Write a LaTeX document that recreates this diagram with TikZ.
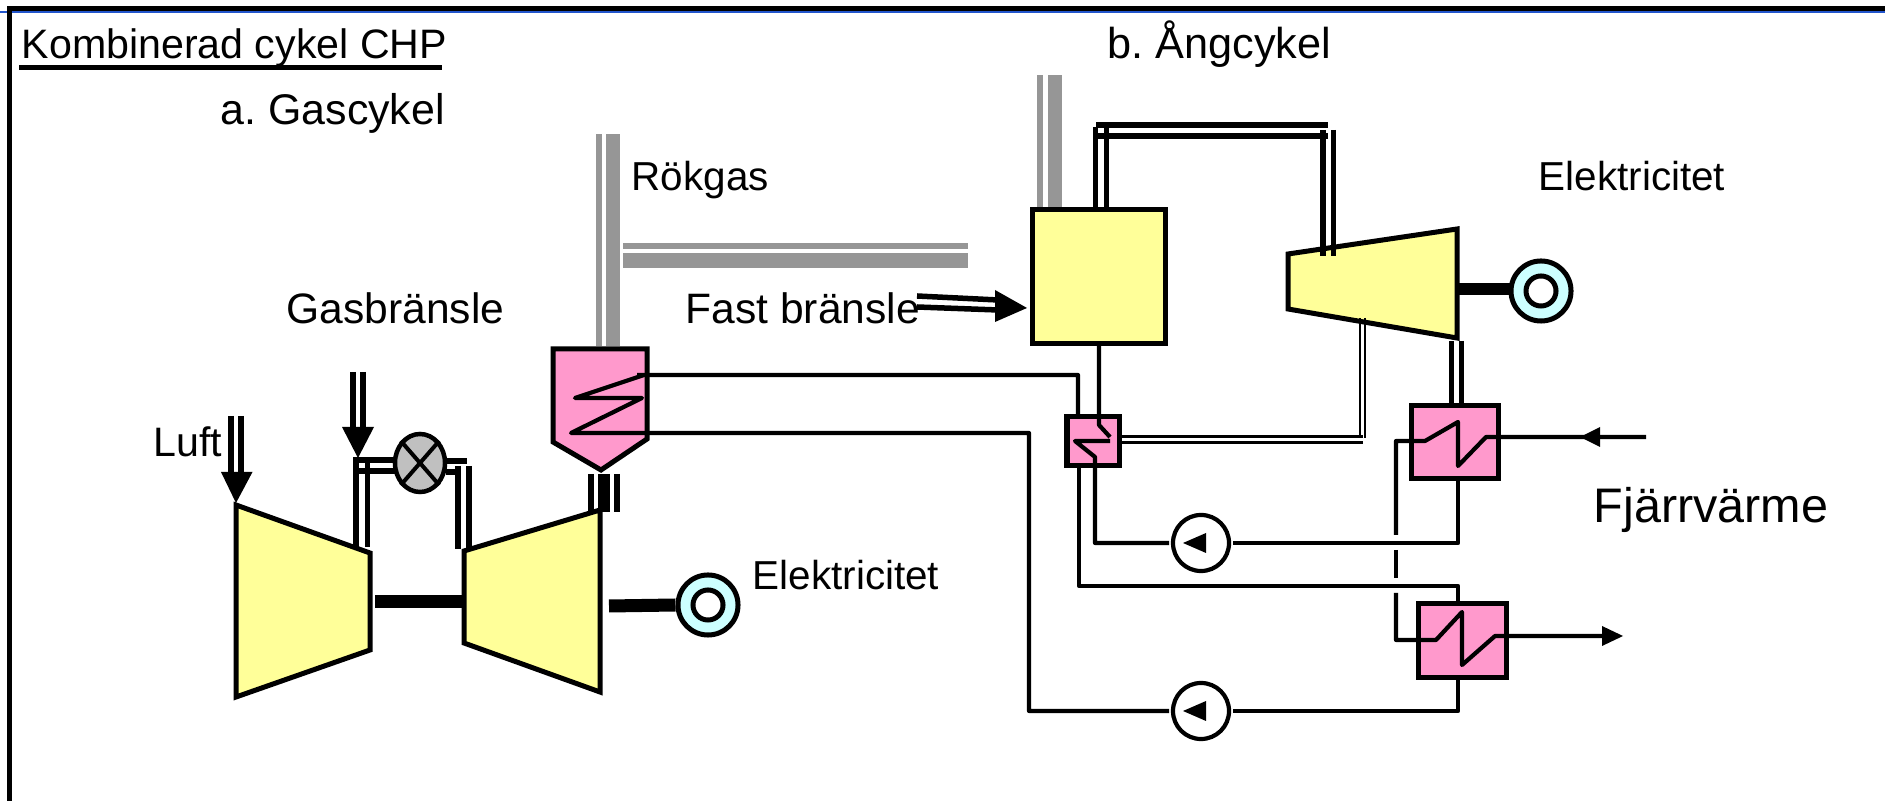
\documentclass[tikz,border=0pt]{standalone}
\usepackage{fontspec}
\setmainfont{Liberation Sans}
\usepackage{xcolor}
\usetikzlibrary{calc,shapes.geometric}
\definecolor{yellowfill}{HTML}{FFFF99}
\definecolor{pinkfill}{HTML}{FF99CC}
\definecolor{cyanfill}{HTML}{CCFFFF}
\definecolor{stackgray}{HTML}{969696}
\definecolor{valvegray}{HTML}{C0C0C0}
\definecolor{frameblue}{HTML}{2255CC}
\tikzset{
  textlabel/.style={inner sep=0pt, anchor=base west, font=\fontsize{#1}{14}\selectfont},
  textlabel/.default=11.7,
  unit/.style={draw=black, line width=0.05cm, line join=miter},
  hxbox/.style={draw=black, fill=pinkfill, line width=0.05cm, minimum width=#1, inner sep=0pt},
  pipe/.style={black, line width=0.042cm, line join=round},
  pump/.style={circle, draw=black, fill=white, line width=0.042cm, minimum size=0.56cm, inner sep=0pt},
  generator/.style={circle, draw=black, fill=cyanfill, line width=0.05cm, minimum size=0.6cm, inner sep=0pt},
  gencore/.style={circle, draw=black, fill=white, line width=0.05cm, minimum size=0.3cm, inner sep=0pt}
}
\begin{document}
\frenchspacing
\begin{tikzpicture}[x=0.01cm, y=-0.01cm]
  \useasboundingbox (0,0) rectangle (1885,801);
  \fill[white] (0,0) rectangle (1885,801);
  \draw[frameblue, line width=0.015cm] (0,12) -- (1885,12);
  \draw[black, line width=0.05cm] (1885,9) -- (9.5,9) -- (9.5,801);

  % labels
  \node[textlabel] (title) at (21,59) {Kombinerad cykel CHP};
  \draw[black, line width=0.05cm] (19,68) -- (442,68);
  \node[textlabel=12.2] (gascycle) at (220,125) {a. Gascykel};
  \node[textlabel=12.3] (steamcycle) at (1107,59) {b. Ångcykel};
  \node[textlabel=11.5] (fluegas) at (631,191) {Rökgas};
  \node[textlabel=12.1] (gasfuel) at (286,324) {Gasbränsle};
  \node[textlabel=12.1] (solidfuel) at (685,324) {Fast bränsle};
  \node[textlabel] (air) at (153,457) {Luft};
  \node[textlabel=11.5] (elgas) at (752,590) {Elektricitet};
  \node[textlabel=11.5] (elsteam) at (1538,191) {Elektricitet};
  \node[textlabel=13.8] (districtheat) at (1593,523) {Fjärrvärme};

  % stacks
  \fill[stackgray] (596,134) rectangle (602,346);
  \fill[stackgray] (606,134) rectangle (620,346);
  \fill[stackgray] (623,243) rectangle (968,249);
  \fill[stackgray] (623,253) rectangle (968,268);
  \fill[stackgray] (1037,75) rectangle (1043,208);
  \fill[stackgray] (1048,75) rectangle (1062,208);

  % gas turbine pipes
  \foreach \px/\pw in {591/0.06cm, 604/0.12cm, 617/0.06cm} {
    \draw[black, line width=\pw] (\px,474) -- (\px,512);
  }
  \foreach \px in {356,367.5} {
    \draw[black, line width=0.055cm] (\px,463) -- (\px,547);
  }
  \foreach \py in {460,471} {
    \draw[black, line width=0.055cm] (353,\py) -- (398,\py);
  }
  \draw[black, line width=0.055cm] (446,461) -- (467,461);
  \draw[black, line width=0.055cm] (446,472) -- (460,472);
  \foreach \px in {458,469} {
    \draw[black, line width=0.055cm] (\px,466) -- (\px,549);
  }

  % fuel and air arrows
  \foreach \px in {352.5,363} {
    \draw[black, line width=0.06cm] (\px,372) -- (\px,430);
  }
  \fill[black] (342,427) -- (374,427) -- (358,458) -- cycle;
  \foreach \px in {231,241} {
    \draw[black, line width=0.06cm] (\px,416) -- (\px,475);
  }
  \fill[black] (221,472) -- (252.5,472) -- (236,503) -- cycle;
  \draw[black, line width=0.055cm] (917,296) -- (998,300);
  \draw[black, line width=0.055cm] (917,307) -- (998,310);
  \fill[black] (995,290) -- (1027,308) -- (995,322) -- cycle;

  % gas turbine units
  \draw[unit, fill=yellowfill] (236,505) -- (370,553) -- (370,650) -- (236,697) -- cycle;
  \draw[unit, fill=yellowfill] (464,551) -- (600,510) -- (600,692) -- (464,643) -- cycle;
  \draw[black, line width=0.13cm] (375,602) -- (464,602);
  \node[generator] (gena) at (708,605) {};
  \node[gencore] (genacore) at (708,605) {};
  \draw[black, line width=0.13cm] (609,606) -- (gena.west);

  % valve
  \node[ellipse, draw=black, fill=valvegray, line width=0.045cm, minimum width=0.5cm, minimum height=0.58cm, inner sep=0pt] (valve) at (420,463) {};
  \draw[black, line width=0.04cm] (valve.north west) -- (valve.south east);
  \draw[black, line width=0.04cm] (valve.north east) -- (valve.south west);

  % combustor
  \draw[unit, fill=pinkfill] (553,349) -- (647,349) -- (647,439) -- (601,470) -- (553,442) -- cycle;
  \draw[pipe] (1078,417) -- (1078,375) -- (637,375) (644,375) -- (575,398) -- (642,398) -- (571,433) -- (1029,433) -- (1029,711) -- (1169,711);

  % steam side
  \node[draw=black, fill=yellowfill, line width=0.05cm, minimum width=1.32cm, minimum height=1.33cm, inner sep=0pt] (boiler) at (1099,276.5) {};
  \draw[unit, fill=yellowfill] (1288,254) -- (1457,229) -- (1457,338) -- (1288,309) -- cycle;
  \draw[black, line width=0.05cm] (1095,127) -- (1095,210);
  \draw[black, line width=0.05cm] (1106,127) -- (1106,210);
  \draw[black, line width=0.06cm] (1096,125) -- (1328,125);
  \draw[black, line width=0.06cm] (1094,136) -- (1328,136);
  \draw[black, line width=0.06cm] (1323,130) -- (1323,256);
  \draw[black, line width=0.05cm] (1333,130) -- (1333,256);
  \draw[black, line width=0.12cm] (1457,289) -- (1511,289);
  \node[generator] (genb) at (1541,291) {};
  \node[gencore] (genbcore) at (1541,291) {};
  \draw[black, line width=0.025cm] (1360,318) -- (1360,438);
  \draw[black, line width=0.025cm] (1365,318) -- (1365,438);

  % heat exchangers
  \node[hxbox=0.52cm, minimum height=0.48cm] (hxs) at (1093,441) {};
  \node[hxbox=0.86cm, minimum height=0.72cm] (hxa) at (1455,442) {};
  \node[hxbox=0.87cm, minimum height=0.73cm] (hxb) at (1462.5,640.5) {};
  \draw[black, line width=0.05cm] (1451,341) -- (1451,406);
  \draw[black, line width=0.05cm] (1461,341) -- (1461,406);

  \draw[black, line width=0.03cm] (1119,436.5) -- (1363,436.5);
  \draw[black, line width=0.03cm] (1119,442.5) -- (1363,442.5);
  \draw[pipe] (1099,343) -- (1099,425) -- (1110,437) (1110,441) -- (1075,441) -- (1095,457) -- (1095,543) -- (1169,543);
  \coordinate (hxaout) at (1458,478);
  \draw[pipe] (1233,543) -- (1458,543) -- (hxaout);
  \draw[pipe] (1079,468) -- (1079,586) -- (1458,586) -- (1458,605);
  \draw[pipe] (1458,677) -- (1458,711) -- (1233,711);

  % district heating circuit
  \coordinate (dhin) at (1646,437);
  \coordinate (dhout) at (1605,636);
  \draw[pipe] (dhin) -- (1486,437) -- (1458,466) -- (1458,422) -- (1425,441) -- (1396,441) -- (1396,535);
  \draw[pipe] (1396,550) -- (1396,578);
  \draw[pipe] (1396,593) -- (1396,640) -- (1436,640) -- (1462,612) -- (1462,665) -- (1495,636) -- (dhout);
  \fill[black] (1600,427) -- (1580,437) -- (1600,447) -- cycle;
  \fill[black] (1602,626) -- (1623,636) -- (1602,646) -- cycle;

  % pumps
  \node[pump] (pumpa) at (1201,543) {};
  \node[pump] (pumpb) at (1201,711) {};
  \foreach \p in {pumpa,pumpb} {
    \fill[black] ($(\p)+(-18,0)$) -- ($(\p)+(5,-10)$) -- ($(\p)+(5,10)$) -- cycle;
  }
\end{tikzpicture}
\end{document}
